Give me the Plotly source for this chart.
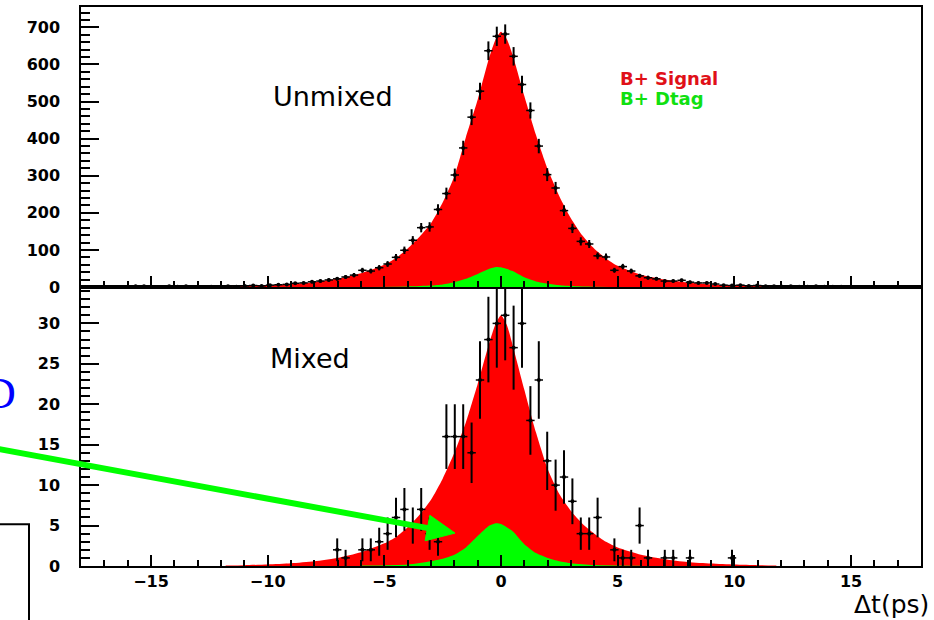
import numpy as np
import plotly.graph_objects as go

# ---- Δt binning of the data histograms (ps) ----
DT_MIN, DT_MAX, N_BINS = -18.0, 18.0, 100

# Events per bin, unmixed sample (bins from -18 to 18 ps)
UNMIXED_COUNTS = [
    0, 0, 0, 0, 0, 0, 2, 2, 0, 0,
    2, 1, 2, 0, 0, 1, 0, 2, 1, 3,
    4, 3, 5, 6, 7, 10, 11, 14, 16, 19,
    22, 27, 32, 45, 43, 52, 62, 80, 99, 126,
    160, 162, 209, 252, 302, 375, 458, 528, 637, 676,
    682, 622, 546, 476, 380, 303, 267, 206, 158, 123,
    116, 84, 81, 45, 55, 43, 30, 25, 22, 16,
    16, 18, 13, 11, 11, 8, 5, 4, 5, 3,
    4, 2, 2, 1, 2, 1, 1, 2, 1, 1,
    1, 0, 0, 0, 0, 0, 0, 0, 0, 0,
]

# Events per bin, mixed sample
MIXED_COUNTS = [
    0, 0, 0, 0, 0, 0, 0, 0, 0, 0,
    0, 0, 0, 0, 0, 0, 0, 0, 0, 0,
    0, 0, 0, 0, 0, 0, 0, 0, 0, 0,
    2, 1, 0, 2, 2, 3, 4, 6, 7, 5,
    7, 4, 3, 16, 16, 16, 14, 23, 28, 30,
    31, 27, 30, 18, 23, 13, 10, 11, 8, 4,
    4, 6, 0, 2, 1, 1, 5, 1, 0, 1,
    1, 0, 1, 0, 0, 0, 0, 1, 0, 0,
    0, 0, 0, 0, 0, 0, 0, 0, 0, 0,
    0, 0, 0, 0, 0, 0, 0, 0, 0, 0,
]

# Fitted B+ signal shape, sampled in Δt
SIG_DT = [-11.8, -11, -10, -9, -8, -7, -6, -5, -4.5, -4, -3.5, -3, -2.5, -2,
          -1.5, -1, -0.5, -0.25, 0, 0.25, 0.5, 1, 1.5, 2, 2.5, 3, 3.5, 4,
          4.5, 5, 6, 7, 8, 9, 10, 11, 11.8]
UNMIXED_SIGNAL = [1, 2, 4, 8, 13, 22, 37, 60, 78, 104, 135, 172, 228, 298,
                  405, 505, 620, 665, 688, 668, 625, 515, 410, 318, 245, 185,
                  138, 103, 77, 57, 33, 20, 12, 7, 4, 2, 1]
MIXED_SIGNAL = [0.05, 0.1, 0.2, 0.35, 0.6, 1.0, 1.7, 2.8, 3.6, 4.8, 6.3, 8.2,
                10.8, 14.0, 17.8, 22.5, 27.6, 29.8, 31.0, 29.8, 27.3, 21.8,
                16.5, 12.0, 8.9, 6.8, 5.2, 4.0, 3.0, 2.3, 1.4, 0.85, 0.5, 0.3,
                0.18, 0.1, 0.05]

# Fitted B+ Dtag component
DTAG_DT = [-6, -4, -3, -2.5, -2, -1.5, -1, -0.5, -0.2, 0, 0.5, 1, 1.5, 2,
           2.5, 3, 4, 6]
UNMIXED_DTAG = [0.3, 1.5, 4, 7, 13, 22, 35, 49, 54, 53, 43, 26, 15, 9, 5, 3,
                1, 0.3]
MIXED_DTAG = [0.05, 0.2, 0.6, 0.9, 1.4, 2.3, 3.7, 5.0, 5.3, 5.2, 4.3, 2.7,
              1.6, 1.0, 0.6, 0.35, 0.12, 0.03]

X_TICKS = [-15, -10, -5, 0, 5, 10, 15]
UNMIXED_Y_TICKS = [0, 100, 200, 300, 400, 500, 600, 700]
MIXED_Y_TICKS = [0, 5, 10, 15, 20, 25, 30]

RED = "#ff0000"
GREEN = "#00ff00"

edges = np.linspace(DT_MIN, DT_MAX, N_BINS + 1)
centers = 0.5 * (edges[:-1] + edges[1:])
half_bin = 0.5 * (edges[1] - edges[0])


def data_trace(counts, xa, ya):
    c = np.asarray(counts, dtype=float)
    keep = c > 0
    n = int(keep.sum())
    return go.Scatter(
        x=centers[keep], y=c[keep], xaxis=xa, yaxis=ya, mode="markers",
        marker=dict(color="black", size=4, symbol="circle"),
        error_x=dict(type="data", array=[half_bin] * n, width=0,
                     thickness=1.5, color="black"),
        error_y=dict(type="data", array=np.sqrt(c[keep]), width=0,
                     thickness=2, color="black"),
        showlegend=False, hoverinfo="skip", cliponaxis=True,
    )


def fill_trace(xs, ys, color, xa, ya):
    return go.Scatter(
        x=xs, y=ys, xaxis=xa, yaxis=ya, mode="lines",
        line=dict(width=0, color=color, shape="spline", smoothing=0.6),
        fill="tozeroy", fillcolor=color, showlegend=False, hoverinfo="skip",
    )


fig = go.Figure()
# upper panel: unmixed
fig.add_trace(fill_trace(SIG_DT, UNMIXED_SIGNAL, RED, "x2", "y2"))
fig.add_trace(fill_trace(DTAG_DT, UNMIXED_DTAG, GREEN, "x2", "y2"))
fig.add_trace(data_trace(UNMIXED_COUNTS, "x2", "y2"))
# lower panel: mixed
fig.add_trace(fill_trace(SIG_DT, MIXED_SIGNAL, RED, "x", "y"))
fig.add_trace(fill_trace(DTAG_DT, MIXED_DTAG, GREEN, "x", "y"))
fig.add_trace(data_trace(MIXED_COUNTS, "x", "y"))

W, H = 934, 620
ML, MR, MT, MB = 81, 13, 5, 54
PW, PH = W - ML - MR, H - MT - MB
SPLIT = (H - MB - 286) / PH


def px(x):
    return (x - ML) / PW


def py(y):
    return (H - MB - y) / PH


tick_font = dict(family="DejaVu Sans", size=16, color="black", weight="bold")
axis_common = dict(
    showline=True, mirror=True, linecolor="black", linewidth=1.5,
    showgrid=False, zeroline=False, ticks="inside", tickcolor="black",
    tickwidth=1.5, tickfont=tick_font,
)

fig.update_layout(
    width=W, height=H,
    margin=dict(l=ML, r=MR, t=MT, b=MB),
    paper_bgcolor="white", plot_bgcolor="white",
    xaxis=dict(domain=[0, 1], anchor="y", range=[DT_MIN, DT_MAX],
               tickvals=X_TICKS, ticklen=11,
               minor=dict(ticks="inside", dtick=1, ticklen=6,
                          tickcolor="black", tickwidth=1.5),
               **axis_common),
    xaxis2=dict(domain=[0, 1], anchor="y2", matches="x", range=[DT_MIN, DT_MAX],
                tickvals=X_TICKS, ticklen=11, showticklabels=False,
                minor=dict(ticks="inside", dtick=1, ticklen=6,
                           tickcolor="black", tickwidth=1.5),
                **axis_common),
    yaxis=dict(domain=[0, SPLIT], anchor="x", range=[0, 34.5],
               tickvals=MIXED_Y_TICKS, ticklen=18, ticklabelstandoff=16,
               minor=dict(ticks="inside", dtick=1, ticklen=9,
                          tickcolor="black", tickwidth=1.5),
               **axis_common),
    yaxis2=dict(domain=[SPLIT, 1], anchor="x2", range=[0, 755],
                tickvals=UNMIXED_Y_TICKS, ticklen=18, ticklabelstandoff=16,
                minor=dict(ticks="inside", dtick=20, ticklen=9,
                           tickcolor="black", tickwidth=1.5),
                **axis_common),
)

label_font = dict(family="DejaVu Sans", size=27, color="black")
fig.add_annotation(text="Unmixed", x=-7.2, y=514, xref="x2", yref="y2",
                   showarrow=False, font=label_font)
fig.add_annotation(text="Mixed", x=-8.2, y=25.7, xref="x", yref="y",
                   showarrow=False, font=label_font)
fig.add_annotation(text="B+ Signal", x=5.0, y=563, xref="x2", yref="y2",
                   xanchor="left", showarrow=False,
                   font=dict(family="DejaVu Sans", size=18, color="#e01018",
                             weight="bold"))
fig.add_annotation(text="B+ Dtag", x=5.0, y=509, xref="x2", yref="y2",
                   xanchor="left", showarrow=False,
                   font=dict(family="DejaVu Sans", size=18, color="#10e010",
                             weight="bold"))
fig.add_annotation(text="Δt(ps)", x=px(931), y=py(605), xref="paper",
                   yref="paper", xanchor="right", yanchor="middle",
                   showarrow=False,
                   font=dict(family="DejaVu Sans", size=25, color="black"))
fig.add_annotation(text="D", x=px(18), y=py(393), xref="paper", yref="paper",
                   xanchor="right", yanchor="middle", showarrow=False,
                   font=dict(family="Liberation Serif", size=44, color="#0000ff"))

# frame of a box at the lower-left corner
fig.add_shape(type="rect", xref="paper", yref="paper",
              x0=px(-20), x1=px(29), y0=py(650), y1=py(524),
              line=dict(color="black", width=2), fillcolor="rgba(0,0,0,0)")

# green arrow pointing at the Dtag component
tail = np.array([-10.0, 447.0])
tip = np.array([455.0, 533.0])
u = (tip - tail) / np.linalg.norm(tip - tail)
nrm = np.array([-u[1], u[0]])
base = tip - 28 * u
c1 = base + 13 * nrm
c2 = base - 13 * nrm
fig.add_shape(type="line", xref="paper", yref="paper",
              x0=px(tail[0]), y0=py(tail[1]), x1=px(base[0] + 2 * u[0]),
              y1=py(base[1] + 2 * u[1]),
              line=dict(color=GREEN, width=6))
fig.add_shape(type="path", xref="paper", yref="paper",
              path=(f"M{px(tip[0])},{py(tip[1])} L{px(c1[0])},{py(c1[1])} "
                    f"L{px(c2[0])},{py(c2[1])} Z"),
              line=dict(color=GREEN, width=1), fillcolor=GREEN)

fig.write_html("out.html")
